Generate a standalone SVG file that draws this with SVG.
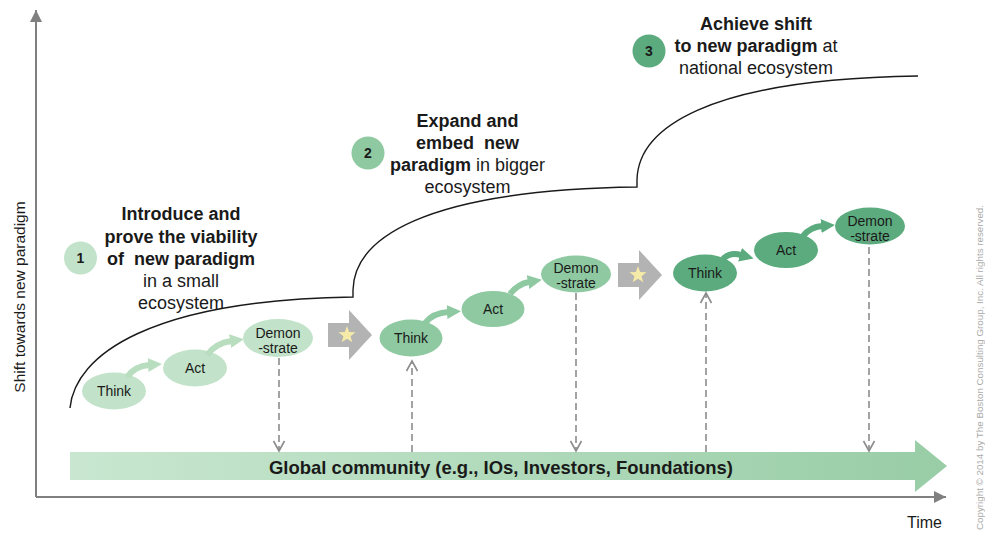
<svg xmlns="http://www.w3.org/2000/svg" width="985" height="534" viewBox="0 0 985 534">
  <style>
    text { font-family: "Liberation Sans", Arial, sans-serif; fill: #1a1a1a; }
    .phase { font-size: 18px; text-anchor: middle; }
    .b { font-weight: bold; }
    .num { font-size: 14px; font-weight: bold; text-anchor: middle; }
    .node { font-size: 14px; text-anchor: middle; }
    .axis { stroke: #808080; stroke-width: 2; fill: none; }
    .curve { stroke: #1a1a1a; stroke-width: 1.4; fill: none; }
    .dash { stroke: #8c8c8c; stroke-width: 1.6; stroke-dasharray: 7 4; fill: none; }
    .g1 { fill: #c2e3c9; }
    .g2 { fill: #8ec9a1; }
    .g3 { fill: #5bab7e; }
    .flow1 { stroke: #b8debf; stroke-width: 6; fill: none; }
    .flow2 { stroke: #8ec9a1; stroke-width: 6; fill: none; }
    .flow3 { stroke: #5bab7e; stroke-width: 6; fill: none; }
    .step { fill: #b3b3b3; }
    .star { fill: #f5eaa8; }
  </style>
  <defs>
    <linearGradient id="bandFill" x1="0" y1="0" x2="1" y2="0">
      <stop offset="0" stop-color="#c9e7d0"/>
      <stop offset="1" stop-color="#98cda6"/>
    </linearGradient>
    <marker id="axisHead" markerUnits="userSpaceOnUse" markerWidth="14" markerHeight="12" refX="12" refY="6" orient="auto">
      <path d="M0,0 L12,6 L0,12 z" fill="#808080"/>
    </marker>
    <marker id="chevron" markerUnits="userSpaceOnUse" markerWidth="14" markerHeight="14" refX="11" refY="7" orient="auto">
      <path d="M1,1.5 L11,7 L1,12.5" fill="none" stroke="#8c8c8c" stroke-width="1.6"/>
    </marker>
    <marker id="head1" markerUnits="userSpaceOnUse" markerWidth="16" markerHeight="16" refX="1" refY="7" orient="auto">
      <path d="M0,0 L14,7 L0,14 z" fill="#b8debf"/>
    </marker>
    <marker id="head2" markerUnits="userSpaceOnUse" markerWidth="16" markerHeight="16" refX="1" refY="7" orient="auto">
      <path d="M0,0 L14,7 L0,14 z" fill="#8ec9a1"/>
    </marker>
    <marker id="head3" markerUnits="userSpaceOnUse" markerWidth="16" markerHeight="16" refX="1" refY="7" orient="auto">
      <path d="M0,0 L14,7 L0,14 z" fill="#5bab7e"/>
    </marker>
    <polygon id="starShape" points="0,-9 2.17,-2.99 8.56,-2.78 3.52,1.14 5.29,7.28 0,3.7 -5.29,7.28 -3.52,1.14 -8.56,-2.78 -2.17,-2.99"/>
  </defs>

  <!-- axes -->
  <g id="axes">
    <line class="axis" x1="36" y1="497" x2="36" y2="10" marker-end="url(#axisHead)"/>
    <line class="axis" x1="36" y1="497" x2="946" y2="497" marker-end="url(#axisHead)"/>
    <text x="25" y="297" font-size="15.5" text-anchor="middle" transform="rotate(-90 25 297)">Shift towards new paradigm</text>
    <text x="907" y="528" font-size="16" textLength="35" lengthAdjust="spacingAndGlyphs">Time</text>
  </g>

  <!-- stepped S-curve of paradigm shift -->
  <path class="curve" d="M70,408 C75,355 150,300 353,297 L353,290 C354,240 420,190 637,187 L637,180 C638,130 703,79 918,76"/>

  <!-- global community band -->
  <g id="global-community">
    <polygon fill="url(#bandFill)" points="70,452 915,452 915,440 947,466 915,492 915,480 70,480"/>
    <text x="501" y="474" font-size="19" class="b" text-anchor="middle" textLength="464" lengthAdjust="spacingAndGlyphs">Global community (e.g., IOs, Investors, Foundations)</text>
  </g>

  <!-- phase labels -->
  <g id="phase-1">
    <circle cx="80.5" cy="258" r="16.5" class="g1"/>
    <text x="80.5" y="263" class="num">1</text>
    <text class="phase"><tspan x="181" y="220" class="b">Introduce and</tspan><tspan x="181" y="242.5" class="b">prove the viability</tspan><tspan x="181" y="265" class="b">of&#160; new paradigm</tspan><tspan x="181" y="287">in a small</tspan><tspan x="181" y="309">ecosystem</tspan></text>
  </g>
  <g id="phase-2">
    <circle cx="368" cy="153" r="16.5" class="g2"/>
    <text x="368" y="158" class="num">2</text>
    <text class="phase"><tspan x="467.5" y="127" class="b">Expand and</tspan><tspan x="467.5" y="149" class="b">embed&#160; new</tspan><tspan x="467.5" y="171"><tspan class="b">paradigm</tspan> in bigger</tspan><tspan x="467.5" y="193">ecosystem</tspan></text>
  </g>
  <g id="phase-3">
    <circle cx="649" cy="51" r="16.5" class="g3"/>
    <text x="649" y="56" class="num">3</text>
    <text class="phase"><tspan x="756" y="30" class="b">Achieve shift</tspan><tspan x="756" y="52"><tspan class="b">to new paradigm</tspan> at</tspan><tspan x="756" y="74">national ecosystem</tspan></text>
  </g>

  <!-- cycle 1 -->
  <g id="think-1"><ellipse cx="114" cy="391" rx="32" ry="18.5" class="g1"/><text x="114" y="396" class="node">Think</text></g>
  <g id="act-1"><ellipse cx="195" cy="368" rx="32" ry="18.5" class="g1"/><text x="195" y="373" class="node">Act</text></g>
  <g id="demonstrate-1"><ellipse cx="278" cy="338" rx="35" ry="19" class="g1"/><text class="node"><tspan x="278" y="338">Demon</tspan><tspan x="278" y="353">-strate</tspan></text></g>
  <g id="step-1"><polygon class="step" points="328,323 349,323 349,310 372,335 349,360 349,347 328,347"/><use href="#starShape" class="star" x="347" y="335"/></g>

  <!-- cycle 2 -->
  <g id="think-2"><ellipse cx="411" cy="338" rx="31.5" ry="18.5" class="g2"/><text x="411" y="343" class="node">Think</text></g>
  <g id="act-2"><ellipse cx="493" cy="309" rx="31.5" ry="18" class="g2"/><text x="493" y="314" class="node">Act</text></g>
  <g id="demonstrate-2"><ellipse cx="576" cy="274" rx="35" ry="18.5" class="g2"/><text class="node"><tspan x="576" y="273">Demon</tspan><tspan x="576" y="288">-strate</tspan></text></g>
  <g id="step-2"><polygon class="step" points="618,263 639,263 639,250 662,275 639,300 639,287 618,287"/><use href="#starShape" class="star" x="638" y="275"/></g>

  <!-- cycle 3 -->
  <g id="think-3"><ellipse cx="705" cy="273" rx="32" ry="18.5" class="g3"/><text x="705" y="278" class="node">Think</text></g>
  <g id="act-3"><ellipse cx="786" cy="250" rx="32" ry="18" class="g3"/><text x="786" y="255" class="node">Act</text></g>
  <g id="demonstrate-3"><ellipse cx="870" cy="226" rx="35" ry="18.5" class="g3"/><text class="node"><tspan x="870" y="226">Demon</tspan><tspan x="870" y="241">-strate</tspan></text></g>

  <!-- connectors -->
  <g id="connectors">
    <path class="flow1" d="M127,377 Q135,366 149,365" marker-end="url(#head1)"/>
    <path class="flow1" d="M207,355 Q216,343 231,341" marker-end="url(#head1)"/>
    <path class="flow2" d="M425,323 Q433,313 448,312" marker-end="url(#head2)"/>
    <path class="flow2" d="M510,294 Q518,284 529,282" marker-end="url(#head2)"/>
    <path class="flow3" d="M723,259 Q730,252 741,255" marker-end="url(#head3)"/>
    <path class="flow3" d="M803,236 Q810,227 822,226" marker-end="url(#head3)"/>

    <line class="dash" x1="279" y1="358" x2="279" y2="451" marker-end="url(#chevron)"/>
    <line class="dash" x1="412" y1="452" x2="412" y2="361" marker-end="url(#chevron)"/>
    <line class="dash" x1="576" y1="293" x2="576" y2="451" marker-end="url(#chevron)"/>
    <line class="dash" x1="706" y1="452" x2="706" y2="293" marker-end="url(#chevron)"/>
    <line class="dash" x1="869" y1="236" x2="869" y2="451" marker-end="url(#chevron)"/>
  </g>

  <!-- copyright line -->
  <text x="983" y="530" font-size="9" style="fill:#aaaaaa" textLength="325" lengthAdjust="spacingAndGlyphs" transform="rotate(-90 983 530)">Copyright © 2014 by The Boston Consulting Group, Inc. All rights reserved.</text>
</svg>
